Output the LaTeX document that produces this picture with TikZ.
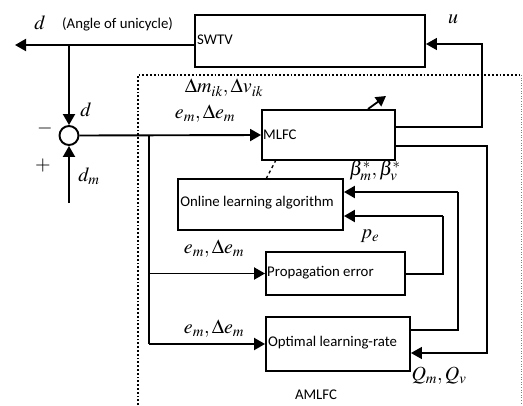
\documentclass[tikz,border=0pt]{standalone}
\usepackage{mathptmx}
\usepackage{fontspec}
\setmainfont{Carlito}
\usetikzlibrary{arrows.meta,calc}
\begin{document}
\begin{tikzpicture}[x=1pt,y=-1pt,
  blk/.style={draw,line width=1.9pt,rectangle,inner sep=0pt},
  conn/.style={line width=1.9pt},
  thin conn/.style={line width=1.4pt},
  arr/.style={-{Triangle[length=11pt,width=12pt]}},
  txt/.style={font=\fontsize{14.8}{17}\selectfont,inner sep=0pt},
  mlab/.style={font=\fontsize{20}{24}\selectfont,inner sep=0pt}]
\useasboundingbox (0,0) rectangle (523,405);
% dotted region
\draw[line width=1.8pt,dotted] (138,405) -- (138,75) -- (521,75);
\draw[gray,line width=0.6pt,dotted] (521,75) -- (521,405);
% blocks
\node[blk,minimum width=230pt,minimum height=52pt] (swtv) at (310,41) {};
\node[txt,anchor=west] (swtvt) at (197,40) {SWTV};
\node[blk,minimum width=133pt,minimum height=50pt] (mlfc) at (328.5,135) {};
\node[txt,anchor=west] (mlfct) at (263,135) {MLFC};
\node[blk,minimum width=165pt,minimum height=51pt] (online) at (260.5,204.5) {};
\node[txt] (onlinet) at (257,203) {Online learning algorithm};
\node[blk,minimum width=139pt,minimum height=43pt] (prop) at (335.5,273.5) {};
\node[txt,anchor=west] (propt) at (267,273) {Propagation error};
\node[blk,minimum width=144pt,minimum height=54pt] (opt) at (338,344) {};
\node[txt,anchor=west] (optt) at (268,343) {Optimal learning-rate};
\node[draw,circle,line width=1.9pt,minimum size=19pt,inner sep=0pt] (sum) at (69,135.5) {};
% coordinates
\coordinate (out) at (15,45);
\coordinate (br1) at (69,45);
\coordinate (dmin) at (69,203);
\coordinate (fb) at (149,135.5);
\coordinate (fb1) at (149,273.5);
\coordinate (fb2) at (149,344);
% connectors
\draw[conn,arr] (swtv.west |- out) -- (out);
\draw[conn,arr] (br1) -- (sum.north);
\draw[conn,arr] (dmin) -- (sum.south);
\draw[conn,arr] (sum.east) -- (mlfc.west);
\draw[thin conn] (fb) -- (fb2);
\draw[conn,arr] (fb1) -- (prop.west);
\draw[conn,arr] (fb2) -- (opt.west);
\coordinate (m1) at (395,127);
\coordinate (m2) at (395,146);
\draw[thin conn,arr] (m1) -- (482,127) -- (482,44) -- (swtv.east |- 0,44);
\draw[thin conn,arr] (m2) -- (487,146) -- (487,353) -- (opt.east |- 0,353);
\coordinate (o1) at (410,330);
\draw[thin conn] (o1) -- (458,330) -- (458,192);
\draw[line width=2.3pt,arr] (458,192) -- (online.east |- 0,192);
\coordinate (p1) at (405,274);
\draw[thin conn] (p1) -- (443,274) -- (443,216);
\draw[line width=2.3pt,arr] (443,216) -- (online.east |- 0,216);
\draw[line width=1.3pt,dashed] (276,160) -- (266,179);
\draw[line width=1.8pt,-{Triangle[length=10pt,width=11pt]}] (368,109) -- (386,96);
% labels
\node[mlab] (ld) at (40,23) {$d$};
\node[txt,anchor=west] (lang) at (62,24) {(Angle of unicycle)};
\node[mlab] (lu) at (453,19) {$u$};
\node[mlab] (ld2) at (86,110) {$d$};
\node[mlab] (lminus) at (45,128) {$-$};
\node[mlab] (lplus) at (43,166) {$+$};
\node[mlab] (ldm) at (89,176) {$d_m$};
\node[mlab] (ldelta) at (224,88) {$\Delta m_{ik},\Delta v_{ik}$};
\node[mlab] (le1) at (205,114) {$e_m,\Delta e_m$};
\node[mlab] (le2) at (214,249) {$e_m,\Delta e_m$};
\node[mlab] (le3) at (214,329) {$e_m,\Delta e_m$};
\node[mlab] (lbeta) at (375,171) {$\beta_m^*,\beta_v^*$};
\node[mlab] (lpe) at (370,236) {$p_e$};
\node[mlab] (lq) at (439,376) {$Q_m,Q_v$};
\node[txt] (lam) at (316,395) {AMLFC};
\end{tikzpicture}
\end{document}
